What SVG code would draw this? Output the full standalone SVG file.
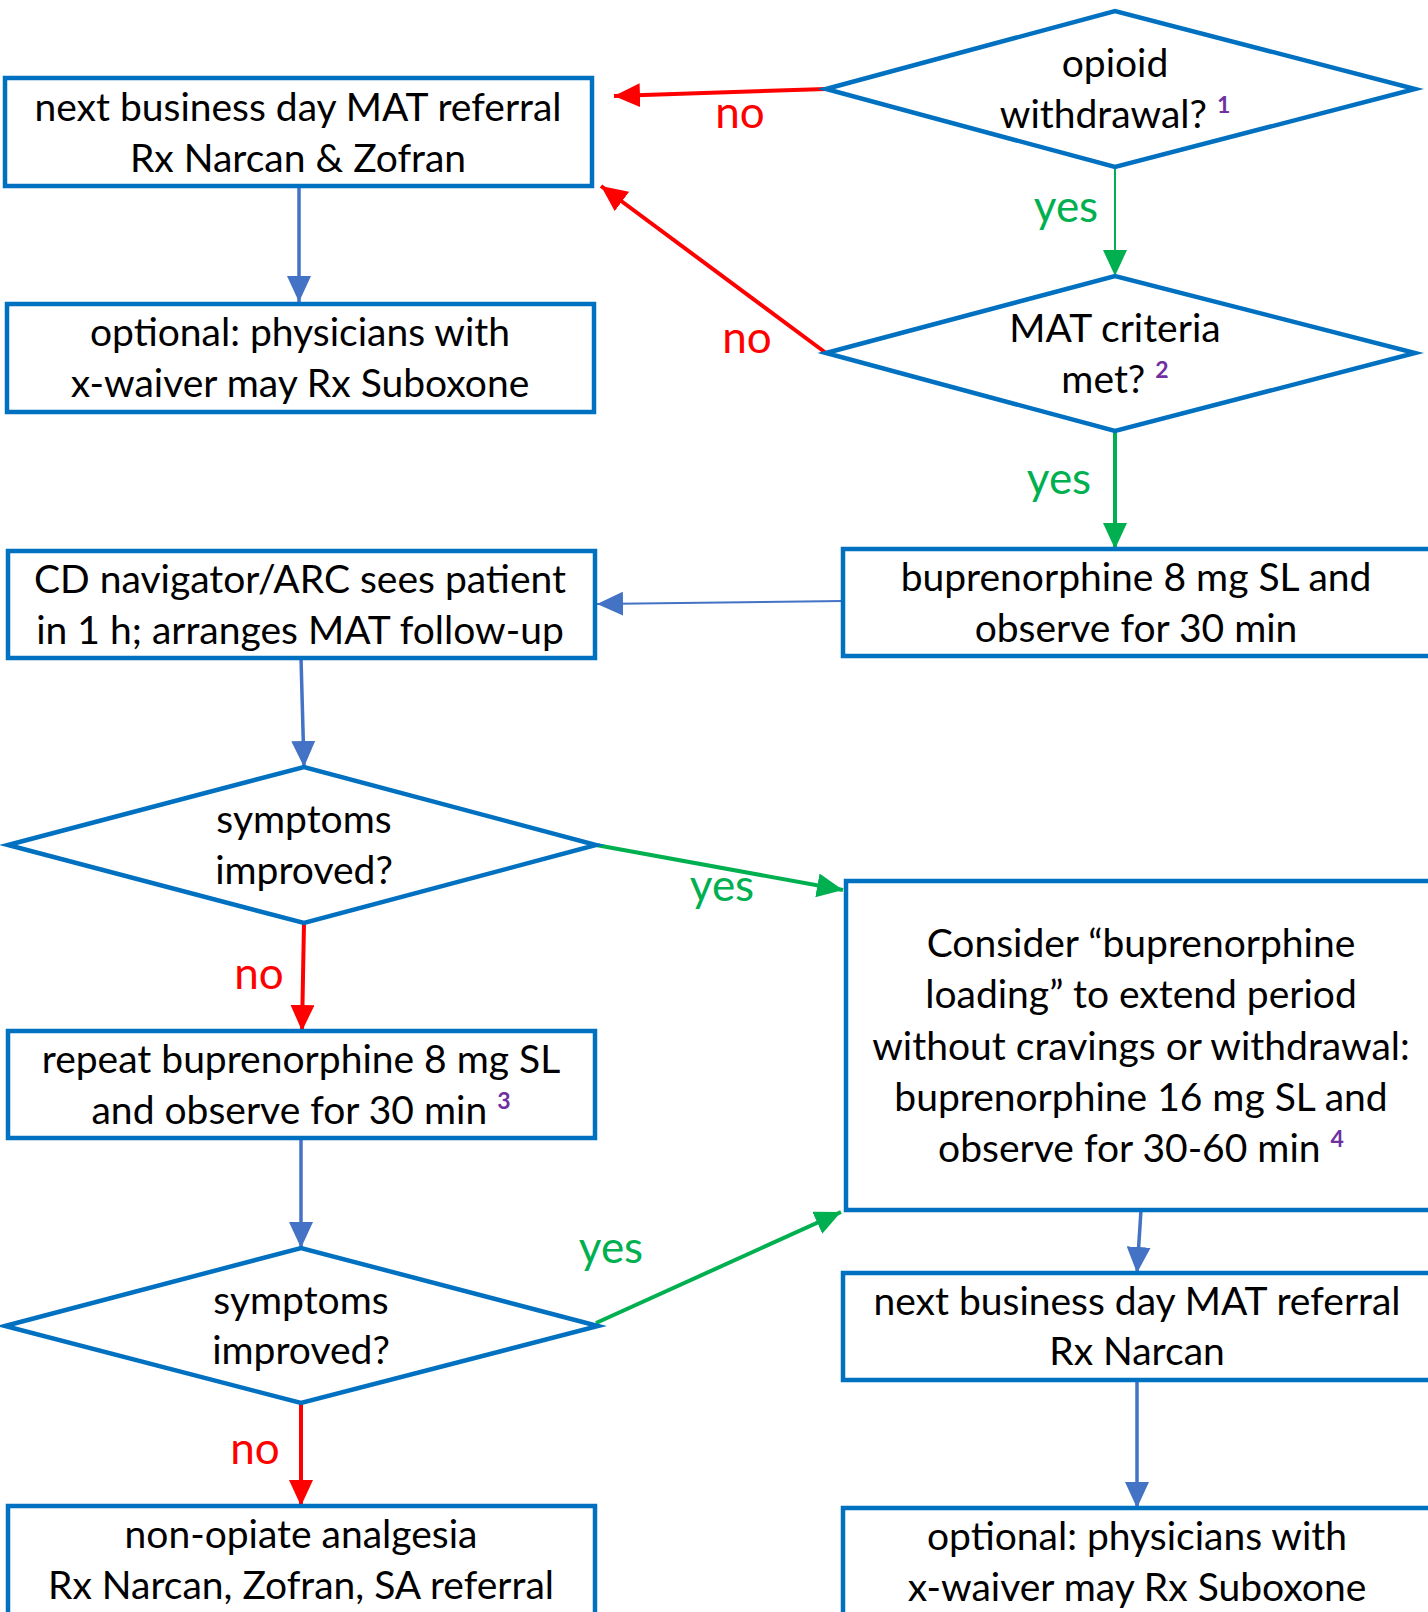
<svg xmlns="http://www.w3.org/2000/svg" width="1428" height="1612" viewBox="0 0 1428 1612">
<style>
.box{fill:#fff;stroke:#0070C0;stroke-width:4.5}
.t{font-family:Lato,"Liberation Sans",sans-serif;font-size:39px;fill:#000;text-anchor:middle}
.sup{font-size:23px;fill:#7030A0;font-weight:bold}
.lbl{font-family:Lato,"Liberation Sans",sans-serif;font-size:44px;text-anchor:middle}
.no{fill:#FF0000}
.yes{fill:#00B050}
.cr{stroke:#FF0000;stroke-width:4;fill:none}
.cg{stroke:#00B050;stroke-width:4;fill:none}
.cb{stroke:#4472C4;stroke-width:3.5;fill:none}
</style>
<defs>
<marker id="ar" markerUnits="userSpaceOnUse" markerWidth="28" markerHeight="24" refX="26" refY="12" orient="auto"><path d="M0,0 L26,12 L0,24 z" fill="#FF0000"/></marker>
<marker id="ag" markerUnits="userSpaceOnUse" markerWidth="28" markerHeight="24" refX="26" refY="12" orient="auto"><path d="M0,0 L26,12 L0,24 z" fill="#00B050"/></marker>
<marker id="ab" markerUnits="userSpaceOnUse" markerWidth="28" markerHeight="24" refX="26" refY="12" orient="auto"><path d="M0,0 L26,12 L0,24 z" fill="#4472C4"/></marker>
</defs>
<g id="connectors">
<line class="cr" x1="826" y1="89" x2="614" y2="96" marker-end="url(#ar)"/>
<line class="cr" x1="826" y1="353" x2="601" y2="186" marker-end="url(#ar)"/>
<line class="cg" style="stroke-width:2" x1="1115" y1="167" x2="1115" y2="276" marker-end="url(#ag)"/>
<line class="cg" x1="1115" y1="431" x2="1115" y2="549" marker-end="url(#ag)"/>
<line class="cb" style="stroke-width:2" x1="843" y1="601" x2="597" y2="604" marker-end="url(#ab)"/>
<line class="cb" x1="299" y1="181" x2="299" y2="302" marker-end="url(#ab)"/>
<line class="cb" x1="301" y1="658" x2="304" y2="767" marker-end="url(#ab)"/>
<line class="cg" x1="596" y1="845" x2="843" y2="890" marker-end="url(#ag)"/>
<line class="cr" x1="304" y1="923" x2="302" y2="1031" marker-end="url(#ar)"/>
<line class="cb" x1="301" y1="1138" x2="301" y2="1248" marker-end="url(#ab)"/>
<line class="cg" x1="596" y1="1323" x2="841" y2="1212" marker-end="url(#ag)"/>
<line class="cr" x1="301" y1="1403" x2="301" y2="1506" marker-end="url(#ar)"/>
<line class="cb" x1="1141" y1="1210" x2="1137" y2="1273" marker-end="url(#ab)"/>
<line class="cb" x1="1137" y1="1380" x2="1137" y2="1508" marker-end="url(#ab)"/>
</g>
<g id="labels">
<text class="lbl no" x="740" y="128">no</text>
<text class="lbl no" x="747" y="353">no</text>
<text class="lbl yes" x="1066" y="222">yes</text>
<text class="lbl yes" x="1059" y="494">yes</text>
<text class="lbl yes" x="722" y="901">yes</text>
<text class="lbl no" x="259" y="989">no</text>
<text class="lbl yes" x="611" y="1263">yes</text>
<text class="lbl no" x="255" y="1464">no</text>
</g>
<g id="box1"><rect class="box" x="5" y="78" width="587" height="108"/>
<text class="t" x="298" y="121">next business day MAT referral</text>
<text class="t" x="298" y="172">Rx Narcan &amp; Zofran</text></g>
<g id="box2"><rect class="box" x="7" y="304" width="587" height="108"/>
<text class="t" x="300" y="346">optional: physicians with</text>
<text class="t" x="300" y="397">x-waiver may Rx Suboxone</text></g>
<g id="d1"><polygon class="box" points="826,89 1115,11 1415,89 1115,167"/>
<text class="t" x="1115" y="77">opioid</text>
<text class="t" x="1115" y="128">withdrawal? <tspan class="sup" dy="-15">1</tspan></text></g>
<g id="d2"><polygon class="box" points="826,353 1115,276 1415,353 1115,431"/>
<text class="t" x="1115" y="342">MAT criteria</text>
<text class="t" x="1115" y="393">met? <tspan class="sup" dy="-15">2</tspan></text></g>
<g id="box3"><rect class="box" x="843" y="549" width="600" height="107"/>
<text class="t" x="1136" y="591">buprenorphine 8 mg SL and</text>
<text class="t" x="1136" y="642">observe for 30 min</text></g>
<g id="box4"><rect class="box" x="8" y="551" width="587" height="107"/>
<text class="t" x="300" y="593">CD navigator/ARC sees patient</text>
<text class="t" x="300" y="644">in 1 h; arranges MAT follow-up</text></g>
<g id="d3"><polygon class="box" points="8,845 304,767 596,845 304,923"/>
<text class="t" x="304" y="833">symptoms</text>
<text class="t" x="304" y="884">improved?</text></g>
<g id="box5"><rect class="box" x="846" y="881" width="600" height="329"/>
<text class="t" x="1141" y="957">Consider “buprenorphine</text>
<text class="t" x="1141" y="1008">loading” to extend period</text>
<text class="t" x="1141" y="1060">without cravings or withdrawal:</text>
<text class="t" x="1141" y="1111">buprenorphine 16 mg SL and</text>
<text class="t" x="1141" y="1162">observe for 30-60 min <tspan class="sup" dy="-15">4</tspan></text></g>
<g id="box6"><rect class="box" x="8" y="1031" width="587" height="107"/>
<text class="t" x="301" y="1073">repeat buprenorphine 8 mg SL</text>
<text class="t" x="301" y="1124">and observe for 30 min <tspan class="sup" dy="-15">3</tspan></text></g>
<g id="d4"><polygon class="box" points="5,1326 301,1248 598,1326 301,1403"/>
<text class="t" x="301" y="1314">symptoms</text>
<text class="t" x="301" y="1364">improved?</text></g>
<g id="box7"><rect class="box" x="843" y="1273" width="600" height="107"/>
<text class="t" x="1137" y="1315">next business day MAT referral</text>
<text class="t" x="1137" y="1365">Rx Narcan</text></g>
<g id="box8"><rect class="box" x="843" y="1508" width="600" height="120"/>
<text class="t" x="1137" y="1550">optional: physicians with</text>
<text class="t" x="1137" y="1601">x-waiver may Rx Suboxone</text></g>
<g id="box9"><rect class="box" x="8" y="1506" width="587" height="120"/>
<text class="t" x="301" y="1548">non-opiate analgesia</text>
<text class="t" x="301" y="1599">Rx Narcan, Zofran, SA referral</text></g>
</svg>
